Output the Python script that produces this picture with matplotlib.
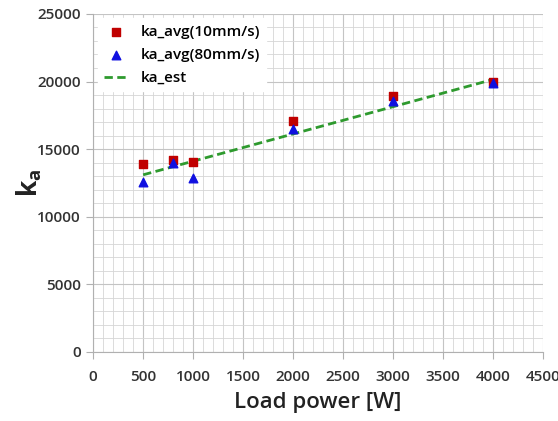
import matplotlib
matplotlib.use('Agg')
import matplotlib.pyplot as plt
from matplotlib.ticker import MultipleLocator

# measured load power points
power = [500, 800, 1000, 2000, 3000, 4000]
ka_10 = [13900, 14200, 14050, 17100, 18950, 20000]
ka_80 = [12600, 13950, 12900, 16500, 18550, 19900]

# estimated line
est_power = [500, 4000]
ka_est = [13100, 20150]

plt.rcParams['font.family'] = ['Open Sans', 'DejaVu Sans']
plt.rcParams['mathtext.fontset'] = 'custom'
plt.rcParams['mathtext.rm'] = 'Open Sans'
plt.rcParams['mathtext.bf'] = 'Open Sans:bold'

fig = plt.figure(figsize=(5.58, 4.21), dpi=100)
ax = fig.add_axes([0.167, 0.164, 0.806, 0.803])

ax.plot(est_power, ka_est, '--', color='#2e9a2e', lw=2, dashes=(3, 1.6), label='ka_est', zorder=3)
ax.scatter(power, ka_10, marker='s', s=38, color='#c00000', label='ka_avg(10mm/s)', zorder=4)
ax.scatter(power, ka_80, marker='^', s=38, color='#1010e0', label='ka_avg(80mm/s)', zorder=5)

ax.set_xlim(0, 4500)
ax.set_ylim(0, 25000)
ax.xaxis.set_major_locator(MultipleLocator(500))
ax.xaxis.set_minor_locator(MultipleLocator(100))
ax.yaxis.set_major_locator(MultipleLocator(5000))
ax.yaxis.set_minor_locator(MultipleLocator(1000))
ax.grid(which='major', color='#c4c4c4', lw=0.8)
ax.grid(which='minor', color='#d6d6d6', lw=0.6)
ax.set_axisbelow(True)

for s in ['top', 'right']:
    ax.spines[s].set_visible(False)
for s in ['left', 'bottom']:
    ax.spines[s].set_color('#b0b0b0')
ax.tick_params(which='major', length=5, color='#b0b0b0', labelsize=11, labelcolor='#333333')
ax.tick_params(axis='x', pad=8)
ax.tick_params(axis='y', pad=4)
ax.tick_params(which='minor', length=0)
for lab in ax.get_xticklabels() + ax.get_yticklabels():
    lab.set_fontweight('semibold')

ax.set_xlabel('Load power [W]', fontsize=16, fontweight='semibold', color='#222222', labelpad=6)
ax.set_ylabel(r'$\mathbf{k}_\mathbf{a}$', fontsize=19, color='#222222')
ax.yaxis.set_label_coords(-0.11, 0.5)

h, l = ax.get_legend_handles_labels()
order = [1, 2, 0]
leg = ax.legend([h[i] for i in order], [l[i] for i in order], loc='upper left',
                frameon=True, fancybox=False, edgecolor='white', framealpha=1,
                fontsize=11, handlelength=1.6, borderaxespad=0.3, labelspacing=0.6)
for t in leg.get_texts():
    t.set_fontweight('semibold')

fig.savefig('out.png', dpi=100)
